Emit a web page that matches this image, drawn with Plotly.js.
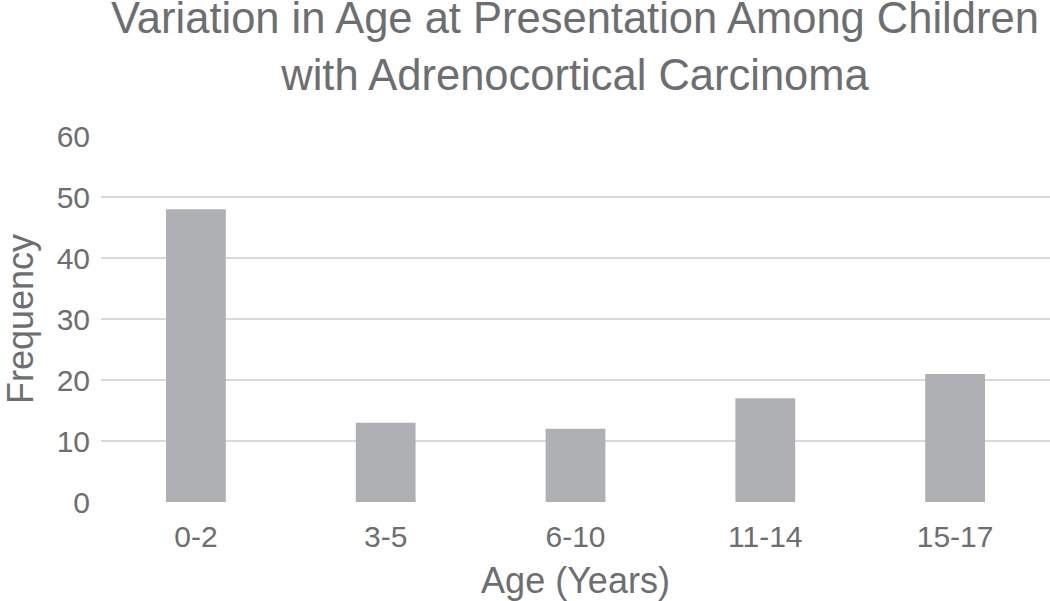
<!DOCTYPE html>
<html>
<head>
<meta charset="utf-8">
<script src="https://cdn.plot.ly/plotly-3.0.1.min.js"></script>
<style>
  body { margin: 0; background: #fff; }
  #chart { width: 1050px; height: 601px; }
</style>
</head>
<body>
<div id="chart"></div>
<script>
const ageGroups = ["0-2", "3-5", "6-10", "11-14", "15-17"];
const frequency = [48, 13, 12, 17, 21];
const yTicks = [0, 10, 20, 30, 40, 50, 60];

const textGray = "#6d6e71";

const data = [
  {
    x: ageGroups,
    y: frequency,
    type: "bar",
    marker: { color: "#afb0b3" },
    hoverinfo: "x+y",
  },
];

const layout = {
  width: 1050,
  height: 601,
  margin: { l: 101, r: 0, t: 136, b: 99 },
  font: { family: "Liberation Sans, Arial, sans-serif", size: 30, color: textGray },
  title: {
    text: "Variation in Age at Presentation Among Children<br>with Adrenocortical Carcinoma",
    font: { size: 43.5, color: textGray },
    x: 0.5476,
    xref: "container",
    y: 0.945,
    yref: "container",
    yanchor: "top",
  },
  bargap: 0.685,
  showlegend: false,
  xaxis: {
    title: { text: "Age (Years)", font: { size: 36 }, standoff: 15 },
    showgrid: false,
    zeroline: false,
    showline: false,
    ticks: "",
    ticklabelstandoff: 14,
  },
  yaxis: {
    title: { text: "Frequency", font: { size: 36 }, standoff: 22 },
    range: [0, 60],
    tickvals: yTicks,
    gridcolor: "#d9d9d9",
    gridwidth: 2,
    zeroline: false,
    showline: false,
    ticks: "",
    ticklabelstandoff: 10,
  },
  paper_bgcolor: "#fff",
  plot_bgcolor: "#fff",
};

Plotly.newPlot("chart", data, layout, { displayModeBar: false });
</script>
</body>
</html>
